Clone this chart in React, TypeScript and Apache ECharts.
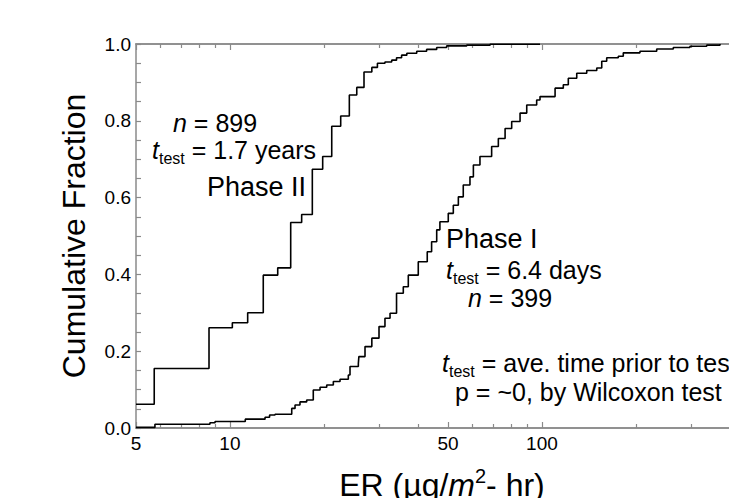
import React, { useEffect, useRef } from "react";
import * as echarts from "echarts";

// Phase II (field, 1.7 years) empirical CDF
const phase2X = [5, 5.72, 8.57, 10.18, 11.4, 12.79, 14.23, 15.66, 16.98, 18.37, 19.83, 21.2, 22.65, 24.14, 25.5, 26.9, 28.5, 29.7, 31.4, 33.0, 34.2, 35.5, 36.9, 39.7, 42.7, 46.0, 49.5, 57.4, 68.2, 98.6];
const phase2Y = [0.062, 0.155, 0.261, 0.274, 0.3, 0.398, 0.417, 0.535, 0.556, 0.674, 0.707, 0.786, 0.8125, 0.867, 0.887, 0.927, 0.939, 0.95, 0.953, 0.958, 0.964, 0.971, 0.976, 0.981, 0.986, 0.991, 0.995, 0.997, 0.9995, 1.0];

// Phase I (6.4 days) empirical CDF
const phase1X = [5, 5.75, 8.63, 8.96, 11.2, 12.96, 13.4, 13.95, 15.78, 16.17, 16.77, 17.62, 18.5, 19.45, 20.43, 21.45, 22.54, 23.96, 24.26, 25.8, 25.9, 27.1, 28.5, 30.05, 31.4, 32.6, 34.2, 35.95, 37.3, 40.15, 42.9, 44.3, 46.0, 47.1, 50.1, 52.0, 53.97, 55.96, 58.8, 60.3, 63.3, 69.0, 72.5, 76.2, 80.0, 85.1, 89.4, 96.2, 98.6, 110.2, 117.1, 121.5, 129.3, 139.2, 149.9, 155.5, 161.3, 175.7, 182.3, 206.2, 233.3, 263.7, 298.2, 337.4, 372.2];
const phase1Y = [0.0015, 0.0096, 0.0138, 0.017, 0.023, 0.028, 0.034, 0.036, 0.051, 0.06, 0.068, 0.073, 0.099, 0.106, 0.112, 0.121, 0.127, 0.138, 0.16, 0.168, 0.186, 0.212, 0.234, 0.264, 0.286, 0.299, 0.351, 0.368, 0.398, 0.433, 0.459, 0.485, 0.516, 0.537, 0.559, 0.58, 0.602, 0.633, 0.654, 0.685, 0.707, 0.733, 0.754, 0.78, 0.798, 0.82, 0.841, 0.854, 0.863, 0.885, 0.894, 0.911, 0.924, 0.931, 0.9375, 0.955, 0.964, 0.968, 0.977, 0.981, 0.987, 0.991, 0.994, 0.997, 1.0];

const xMajorTicks = [5, 10, 50, 100];
const xMinorTicks = [6, 7, 8, 9, 20, 30, 40, 60, 70, 80, 90, 200, 300, 400];
const xMin = 5;
const xMax = 500;

const FONT = "'Liberation Sans', Arial, Helvetica, sans-serif";
const AXIS_GRAY = "#8a8a8a";

export default function App() {
  const ref = useRef<HTMLDivElement>(null);

  useEffect(() => {
    const chart = echarts.init(ref.current!, null, { renderer: "svg" });
    const gridRect = { left: 136, top: 44, width: 624, height: 384, containLabel: false, outerBoundsMode: "none" };
    const baseLog = {
      type: "log" as const,
      logBase: 10,
      min: xMin,
      max: xMax,
      splitLine: { show: false },
      minorTick: { show: false },
    };
    const axisLine = { show: true, lineStyle: { color: AXIS_GRAY, width: 1.5 } };
    const tRich = {
      i: { fontStyle: "italic", fontSize: 25, fontFamily: FONT, fill: "#000" },
      sub: { fontSize: 16, fontFamily: FONT, padding: [16, 0, 0, 0], fill: "#000" },
      r: { fontSize: 25, fontFamily: FONT, fill: "#000" },
    };
    const annot = (x: number, y: number, text: string, size = 25) => ({
      type: "text",
      x,
      y,
      style: {
        text,
        rich: tRich,
        fontSize: size,
        fontFamily: FONT,
        fill: "#000",
        align: "left",
        verticalAlign: "middle",
        textAlign: "left",
        textVerticalAlign: "middle",
      },
    });

    chart.setOption({
      animation: false,
      backgroundColor: "#fff",
      grid: [
        { ...gridRect },
        { ...gridRect },
      ],
      xAxis: [
        {
          ...baseLog,
          gridIndex: 0,
          position: "bottom",
          axisLine,
          axisTick: { show: true, inside: true, length: 6, customValues: xMajorTicks, lineStyle: { color: AXIS_GRAY, width: 1.2 } },
          axisLabel: {
            show: true,
            customValues: xMajorTicks,
            formatter: (v: number) => String(Math.round(v)),
            fontSize: 19,
            fontFamily: FONT,
            color: "#000",
            margin: 6,
          },
        },
        {
          ...baseLog,
          gridIndex: 0,
          position: "top",
          axisLine,
          axisTick: { show: true, inside: true, length: 6, customValues: xMajorTicks, lineStyle: { color: AXIS_GRAY, width: 1.2 } },
          axisLabel: { show: false },
        },
        {
          ...baseLog,
          gridIndex: 1,
          position: "bottom",
          axisLine,
          axisTick: { show: true, inside: true, length: 4, customValues: xMinorTicks, lineStyle: { color: AXIS_GRAY, width: 1.2 } },
          axisLabel: { show: false },
        },
        {
          ...baseLog,
          gridIndex: 1,
          position: "top",
          axisLine,
          axisTick: { show: true, inside: true, length: 4, customValues: xMinorTicks, lineStyle: { color: AXIS_GRAY, width: 1.2 } },
          axisLabel: { show: false },
        },
      ],
      yAxis: [
        {
          type: "value",
          gridIndex: 0,
          min: 0,
          max: 1,
          interval: 0.2,
          axisLine,
          axisTick: { show: true, inside: true, length: 5, lineStyle: { color: AXIS_GRAY, width: 1.2 } },
          minorTick: { show: true, splitNumber: 4, length: 5, lineStyle: { color: AXIS_GRAY, width: 1.2 } },
          splitLine: { show: false },
          minorSplitLine: { show: false },
          axisLabel: {
            formatter: (v: number) => v.toFixed(1),
            fontSize: 19,
            fontFamily: FONT,
            color: "#000",
            margin: 5,
          },
        },
        {
          type: "value",
          gridIndex: 1,
          min: 0,
          max: 1,
          show: false,
        },
      ],
      series: [
        {
          name: "Phase II",
          type: "line",
          xAxisIndex: 0,
          yAxisIndex: 0,
          step: "end",
          showSymbol: false,
          clip: false,
          z: 5,
          lineStyle: { color: "#000", width: 1.6 },
          data: phase2X.map((x, i) => [x, phase2Y[i]]),
        },
        {
          name: "Phase I",
          type: "line",
          xAxisIndex: 0,
          yAxisIndex: 0,
          step: "end",
          showSymbol: false,
          clip: false,
          z: 5,
          lineStyle: { color: "#000", width: 1.6 },
          data: phase1X.map((x, i) => [x, phase1Y[i]]),
        },
      ],
      graphic: [
        annot(173, 123, "{i|n}{r| = 899}"),
        annot(152, 150, "{i|t}{sub|test}{r| = 1.7 years}"),
        {
          type: "text",
          x: 207,
          y: 187,
          style: { text: "Phase II", fontSize: 27, fontFamily: FONT, fill: "#000", align: "left", verticalAlign: "middle", textAlign: "left", textVerticalAlign: "middle" },
        },
        {
          type: "text",
          x: 446,
          y: 239,
          style: { text: "Phase I", fontSize: 27, fontFamily: FONT, fill: "#000", align: "left", verticalAlign: "middle", textAlign: "left", textVerticalAlign: "middle" },
        },
        annot(446, 270, "{i|t}{sub|test}{r| = 6.4 days}"),
        annot(468, 298, "{i|n}{r| = 399}"),
        annot(442, 363, "{i|t}{sub|test}{r| = ave. time prior to test}"),
        annot(455, 392, "{r|p = ~0, by Wilcoxon test}"),
        {
          type: "text",
          x: 74,
          y: 236,
          rotation: Math.PI / 2,
          style: { text: "Cumulative Fraction", fontSize: 32, fontFamily: FONT, fill: "#000", align: "center", verticalAlign: "middle", textAlign: "center", textVerticalAlign: "middle" },
        },
        {
          type: "text",
          x: 442,
          y: 485,
          style: {
            text: "{r|ER (µg/}{i|m}{sup|2}{r|- hr)}",
            fontSize: 32,
            fontFamily: FONT,
            fill: "#000",
            align: "center",
            verticalAlign: "middle",
            textAlign: "center",
            textVerticalAlign: "middle",
            rich: {
              r: { fontSize: 32, fontFamily: FONT, fill: "#000" },
              i: { fontSize: 32, fontFamily: FONT, fontStyle: "italic", fill: "#000" },
              sup: { fontSize: 20, fontFamily: FONT, padding: [0, 0, 18, 0], fill: "#000" },
            },
          },
        },
      ],
    });

    return () => chart.dispose();
  }, []);

  return (
    <div
      ref={ref}
      style={{ position: "absolute", left: 0, top: 0, width: 729, height: 498, overflow: "hidden", background: "#fff" }}
    />
  );
}
